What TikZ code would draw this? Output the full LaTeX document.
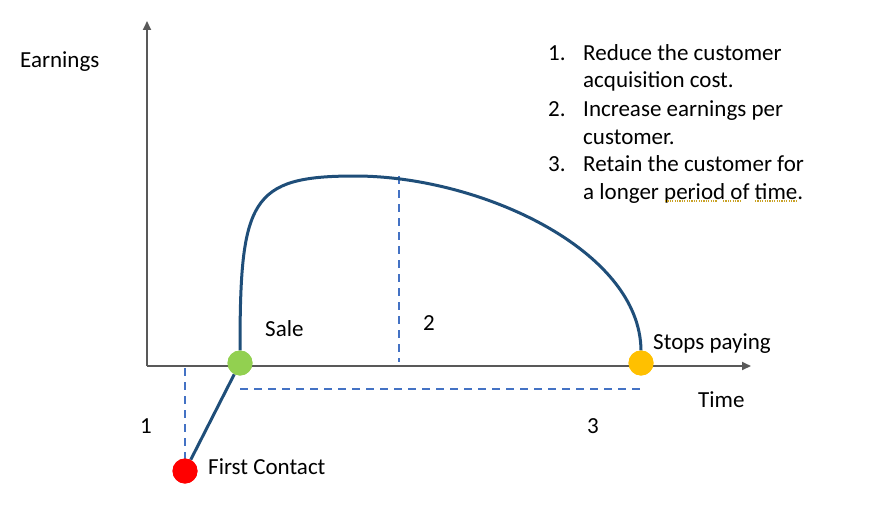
\documentclass[tikz,border=0pt]{standalone}
\usepackage{fontspec}
\setmainfont{Carlito}
\usetikzlibrary{arrows.meta}
\definecolor{axisgrey}{HTML}{595959}
\definecolor{curveblue}{HTML}{1F4E79}
\definecolor{dashblue}{HTML}{4472C4}
\definecolor{dotgreen}{HTML}{92D050}
\definecolor{dotorange}{HTML}{FFC000}
\definecolor{dotred}{HTML}{FF0000}
\definecolor{spellgold}{HTML}{C9A227}
\tikzset{
  txt/.style={inner sep=0pt, anchor=base west, font=\fontsize{23}{28}\selectfont},
  axisline/.style={draw=axisgrey, line width=2pt, -{Triangle[length=9pt,width=8pt]}},
  dotnode/.style={circle, minimum size=25pt, inner sep=0pt, draw=none},
  curveline/.style={draw=curveblue, line width=3pt},
  guide/.style={draw=dashblue, line width=1.8pt, dash pattern=on 8pt off 6pt},
  spell/.style={draw=spellgold, line width=1.3pt, dash pattern=on 1.2pt off 1.2pt}
}
\begin{document}
\begin{tikzpicture}[x=1pt,y=-1pt]
\useasboundingbox (0,0) rectangle (872,519);
% axes
\coordinate (origin) at (147,366);
\coordinate (ytip) at (147,21);
\coordinate (xtip) at (751,366);
\draw[axisline] (origin) -- (ytip);
\draw[axisline] (origin) -- (xtip);
% guides
\coordinate (g1a) at (185,368);
\coordinate (g1b) at (185,461);
\coordinate (g2a) at (399,176);
\coordinate (g2b) at (399,362);
\coordinate (g3a) at (240,389);
\coordinate (g3b) at (642,389);
\draw[guide] (g1a) -- (g1b);
\draw[guide] (g2a) -- (g2b);
\draw[guide] (g3a) -- (g3b);
% dots
\node[dotnode, fill=dotgreen] (sale) at (240,363) {};
\node[dotnode, fill=dotorange] (stop) at (641,363) {};
\node[dotnode, fill=dotred] (first) at (185,471) {};
% curve
\coordinate (top) at (355,176);
\draw[curveline] (sale.north) .. controls (240,200) and (250,176) .. (top)
  .. controls (480,176) and (640,250) .. (stop.north);
\draw[curveline] (first) -- (sale);
\node[dotnode, fill=dotgreen] at (sale) {};
\node[dotnode, fill=dotorange] at (stop) {};
\node[dotnode, fill=dotred] at (first) {};
% labels
\node[txt] (earn) at (20,67) {Earnings};
\node[txt] (time) at (698,407) {Time};
\node[txt] (salel) at (265,336) {Sale};
\node[txt] (two) at (423,330) {2};
\node[txt] (stopl) at (653,349) {Stops paying};
\node[txt] (one) at (140,433) {1};
\node[txt] (three) at (587,433) {3};
\node[txt] (firstl) at (208,474) {First Contact};
% list
\node[txt] (n1) at (548,60) {1.};
\node[txt] (l1) at (583,60) {Reduce the customer};
\node[txt] (l2) at (583,87) {acquisition cost.};
\node[txt] (n2) at (548,116) {2.};
\node[txt] (l3) at (583,116) {Increase earnings per};
\node[txt] (l4) at (583,144) {customer.};
\node[txt] (n3) at (548,171) {3.};
\node[txt] (l5) at (583,171) {Retain the customer for};
\node[txt] (l6) at (583,199) {a longer period of time.};
% spell-check marks
\coordinate (s1a) at (665,201); \coordinate (s1b) at (717,201);
\coordinate (s2a) at (723,201); \coordinate (s2b) at (740,201);
\coordinate (s3a) at (755,201); \coordinate (s3b) at (798,201);
\draw[spell] (s1a) -- (s1b);
\draw[spell] (s2a) -- (s2b);
\draw[spell] (s3a) -- (s3b);
\end{tikzpicture}
\end{document}
